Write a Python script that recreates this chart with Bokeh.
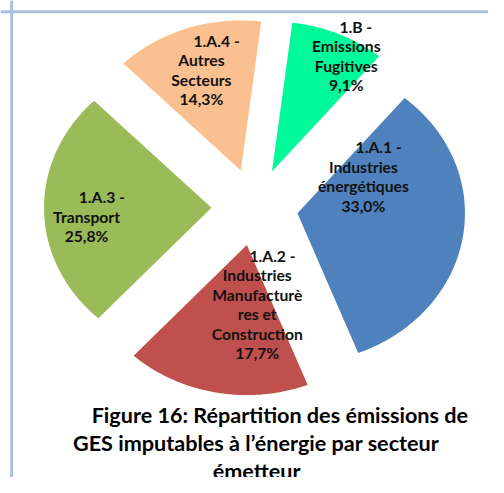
import numpy as np
from bokeh.plotting import figure
from bokeh.models import Range1d, Span, ColumnDataSource
from bokeh.core.properties import value
from bokeh.embed import file_html
from bokeh.resources import INLINE

# ---------------- data ----------------
categories = [
    "1.A.1 - Industries énergétiques",
    "1.A.2 - Industries Manufacturères et Construction",
    "1.A.3 - Transport",
    "1.A.4 - Autres Secteurs",
    "1.B - Emissions Fugitives",
]
shares = [33.0, 17.7, 25.8, 14.3, 9.1]
label_lines = [
    ["1.A.1 -", "Industries", "énergétiques"],
    ["1.A.2 -", "Industries", "Manufacturè", "res et", "Construction"],
    ["1.A.3 -", "Transport"],
    ["1.A.4 -", "Autres", "Secteurs"],
    ["1.B -", "Emissions", "Fugitives"],
]
colors = ["#4f81bd", "#c0504d", "#9bbb59", "#fac090", "#00fa9a"]
title_lines = [
    "Figure 16: Répartition des émissions de",
    "GES imputables à l\u2019énergie par secteur",
    "émetteur",
]

# ---------------- layout constants ----------------
CX, CY = 262.6, 213.5
RX, RY = 173.0, 155.0
SX = RX / RY
EXPLODE = 40.0
START = 50.2
LABEL_ANG = [32.0, -81.0, -175.5, 109.4, 60.1]
LABEL_DIST = [72.0, 62.0, 116.0, 110.0, 138.0]
FIRST_PAD = [8, 8, 8, 8, 5]
FONT = "Lato"

vals = np.array(shares, dtype=float)
frac = vals / vals.sum()
ends = START - 360.0 * np.cumsum(frac)
starts = ends + 360.0 * frac

xs, ys, lx, ly, ltxt = [], [], [], [], []
for i in range(len(vals)):
    mid = np.radians((starts[i] + ends[i]) / 2)
    ax = CX + EXPLODE * SX * np.cos(mid)
    ay = CY - EXPLODE * np.sin(mid)
    t = np.radians(np.linspace(starts[i], ends[i], 160))
    xs.append([ax] + list(ax + RX * np.cos(t)))
    ys.append([ay] + list(ay - RY * np.sin(t)))
    a = np.radians(LABEL_ANG[i])
    lx.append(ax + LABEL_DIST[i] * SX * np.cos(a))
    ly.append(ay - LABEL_DIST[i] * np.sin(a))
    pct = f"{shares[i]:.1f}".replace(".", ",") + "%"
    lines = list(label_lines[i])
    lines[0] = "\u00a0" * FIRST_PAD[i] + lines[0]
    ltxt.append("\n".join(lines + [pct]))

p = figure(width=488, height=477, output_backend="svg", toolbar_location=None,
           x_range=Range1d(0, 504), y_range=Range1d(493, 0),
           x_axis_type=None, y_axis_type=None, min_border=0)
p.grid.visible = False
p.outline_line_color = None
p.background_fill_color = "white"
p.border_fill_color = "white"

p.patches(xs=xs, ys=ys, fill_color=colors, line_color=None)

src = ColumnDataSource(dict(x=lx, y=ly, t=ltxt))
p.text(x="x", y="y", text="t", source=src, text_font=value(FONT),
       text_font_style="bold", text_font_size="15.7px", text_color="#111111",
       text_align="center", text_baseline="middle", text_line_height=1.08)

tsrc = ColumnDataSource(dict(x=[288.5, 264.0, 264.5], y=[428, 457, 486], t=title_lines))
p.text(x="x", y="y", text="t", source=tsrc, text_font=value(FONT),
       text_font_style="bold", text_font_size="21.6px", text_color="#000000",
       text_align="center", text_baseline="middle")

p.add_layout(Span(location=11.5, dimension="height", line_color="#a9c1e0", line_width=3))
p.add_layout(Span(location=11.5, dimension="width", line_color="#a9c1e0", line_width=3))

open("out.html", "w").write(file_html(p, INLINE))
